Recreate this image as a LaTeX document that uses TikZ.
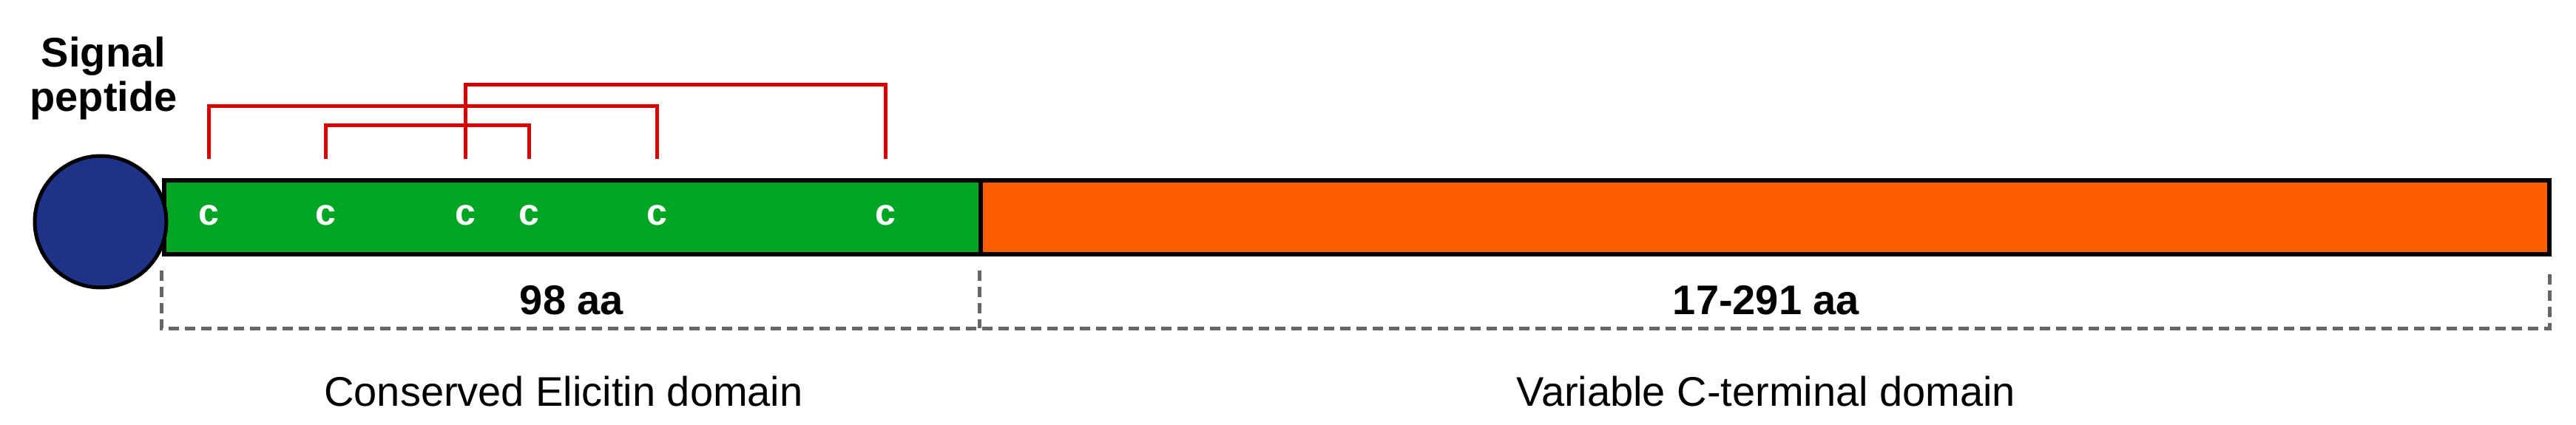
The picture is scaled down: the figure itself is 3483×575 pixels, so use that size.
\documentclass[tikz,border=0pt]{standalone}
\usepackage{fontspec}
\setmainfont{Liberation Sans}
\begin{document}
\begin{tikzpicture}[x=1pt,y=-1pt,
  bond/.style={draw=red!85!black,line width=5pt},
  dom/.style={draw=black,line width=6pt},
  brk/.style={draw=black!60,line width=5pt,dash pattern=on 14pt off 8pt},
  cys/.style={text=white,font=\fontsize{50}{50}\selectfont\bfseries},
  lbl/.style={font=\fontsize{56}{60}\selectfont\bfseries},
  dlbl/.style={font=\fontsize{56}{60}\selectfont}]
\useasboundingbox (0,0) rectangle (3483,575);
\fill[white] (0,0) rectangle (3483,575);
\path[fill={rgb,255:red,0;green,166;blue,35},dom] (222,244) rectangle (1326,344);
\path[fill={rgb,255:red,255;green,94;blue,0},dom] (1326,244) rectangle (3447,344);
\node[circle,draw=black,line width=5pt,fill={rgb,255:red,30;green,50;blue,135},minimum size=178pt,inner sep=0pt] (sp) at (136,300) {};
\foreach \x/\n in {282/c1,440/c2,629/c3,715/c4,888/c5,1197/c6}{
  \node[cys] (\n) at (\x,291) {c};
  \coordinate (t\n) at (\x,215);}
\draw[bond] (tc1) -- (282,144) -| (tc5);
\draw[bond] (tc2) -- (440,169) -| (tc4);
\draw[bond] (tc3) -- (629,115) -| (tc6);
\node[lbl,align=center] (sig) at (140,106) {Signal\\peptide};
\coordinate (b0) at (218,366); \coordinate (b1) at (1324,366); \coordinate (b2) at (3447,366);
\draw[brk] (b0) -- (218,444) -- (3447,444) -- (b2);
\draw[brk] (b1) -- (1324,444);
\node[lbl] (l1) at (773,406) {98 aa};
\node[lbl] (l2) at (2388,406) {17-291 aa};
\node[dlbl] (d1) at (762,529) {Conserved Elicitin domain};
\node[dlbl] (d2) at (2388,529) {Variable C-terminal domain};
\end{tikzpicture}
\end{document}
